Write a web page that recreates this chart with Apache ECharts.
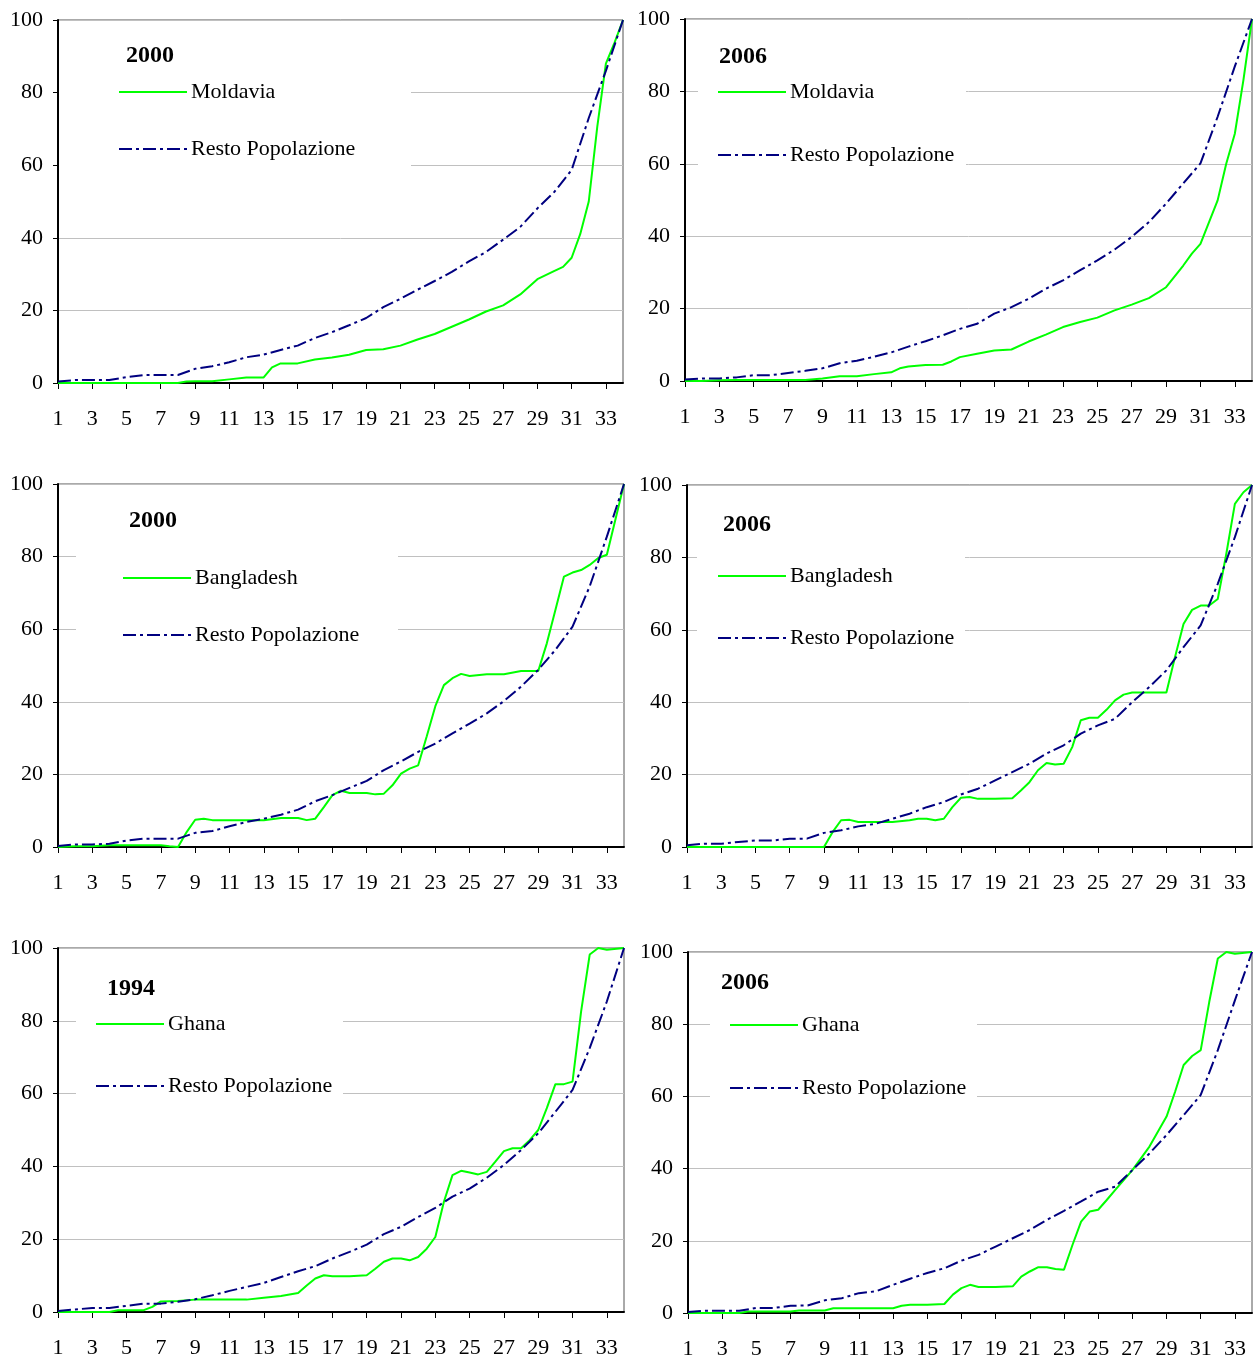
<!DOCTYPE html>
<html>
<head>
<meta charset="utf-8">
<script src="https://cdn.jsdelivr.net/npm/echarts@6/dist/echarts.min.js"></script>
<style>
html,body{margin:0;padding:0;background:#fff;}
#main{width:1253px;height:1361px;}
</style>
</head>
<body>
<div id="main"></div>
<script>
// x categories: 1 .. 34 in half steps; tick labels at 1,3,5,...,33
const xTickLabels = ['1','3','5','7','9','11','13','15','17','19','21','23','25','27','29','31','33'];
const yTicks = [0, 20, 40, 60, 80, 100];

// values at integer positions 1..34
const moldavia2000 = [0,0,0,0,0,0,0,0,0.5,0.5,1,1.5,1.5,5.4,5.4,6.5,7,7.8,9.1,9.3,10.3,12,13.5,15.5,17.5,19.7,21.4,24.4,28.6,30.9,34.5,50,88,100];
const moldavia2000Half = [[8.5,0.4],[13.5,4.3],[30.5,32],[31.5,41],[32.5,70.7],[33.5,93.7]];
const resto2000M = [0.4,0.8,0.8,0.8,1.6,2.2,2.2,2.2,3.9,4.6,5.7,7.1,7.8,9.1,10.3,12.4,14,15.9,17.9,20.9,23.2,25.7,28.1,30.6,33.5,36.1,39.5,43,48.1,52.7,58.7,73,86,100];

const moldavia2006 = [0,0,0.2,0.3,0.3,0.3,0.3,0.3,0.7,1.3,1.3,1.9,2.4,4,4.4,4.5,6.6,7.5,8.4,8.7,10.9,12.8,14.9,16.3,17.5,19.5,21.1,22.9,25.9,31.9,37.9,49.9,68.3,100];
const moldavia2006Half = [[13.5,3.5],[16.5,5.4],[30.5,35.2],[31.5,43.9],[32.5,60],[33.5,83.1]];
const resto2006M = [0.4,0.7,0.7,1,1.6,1.6,2.2,2.8,3.5,4.9,5.6,6.7,7.9,9.5,11,12.6,14.4,15.8,18.6,20.4,22.7,25.5,27.8,30.6,33.3,36.3,39.8,43.9,49,54.6,60.1,73,86.9,100];

const bangladesh2000 = [0,0.2,0.2,0.5,0.5,0.5,0.5,0,7.5,7.4,7.4,7.4,7.4,8,8,7.8,14.3,14.9,14.9,14.7,20.2,22.5,38.8,46.5,47.1,47.6,47.6,48.5,48.5,65.3,75.6,77.7,80.5,100];
const bangladesh2000Half = [[7.5,0.2],[8.5,4.1],[9.5,7.8],[15.5,7.4],[16.5,11],[17.5,15.5],[19.5,14.5],[20.5,17],[21.5,21.6],[22.5,30.5],[23.5,44.6],[24.5,47.7],[29.5,56.1],[30.5,74.5],[31.5,76.3],[32.5,79.6],[33.5,90.2]];
const resto2000B = [0.3,0.7,0.7,0.9,1.8,2.3,2.3,2.3,3.9,4.4,5.7,6.9,7.8,8.9,10.3,12.6,14.3,16.3,18.2,21.2,23.6,26.2,28.5,31.3,34,36.8,40.2,44.2,48.8,54.3,60.7,71.8,85.5,100];

const bangladesh2006 = [0,0,0,0,0,0,0,0,0,7.4,6.9,6.9,6.9,7.4,7.8,7.8,13.6,13.3,13.3,13.5,17.9,23.2,23,35,35.7,40.5,42.7,42.7,42.7,61.6,66.7,68.5,94.8,100];
const bangladesh2006Half = [[9.5,4.1],[10.5,7.5],[14.5,7.8],[15.5,7.4],[16.5,11],[17.5,13.8],[20.5,15.6],[21.5,21.2],[22.5,22.8],[23.5,27.6],[24.5,35.7],[25.5,37.9],[26.5,42.1],[29.5,52.4],[30.5,65.5],[31.5,66.7],[32.5,81],[33.5,98]];
const resto2006B = [0.5,0.9,0.9,1.4,1.8,1.8,2.3,2.3,3.9,4.6,5.7,6.4,7.8,9.2,11,12.4,14.5,16.1,18.4,20.7,23,25.8,28.1,31.3,33.6,35.4,40,44.2,48.8,55.2,61.2,72.7,85.6,100];

const ghana1994 = [0,0,0,0,0.5,0.5,2.9,3,3.4,3.4,3.4,3.4,3.9,4.4,5.2,9.2,9.8,9.8,10.1,13.8,14.7,15.1,20.6,37.6,38.3,38.5,44.2,45,50,62.6,63.3,98.2,99.5,100];
const ghana1994Half = [[4.5,0.5],[6.5,1.4],[15.5,7.3],[16.5,10.1],[19.5,11.9],[20.5,14.7],[21.5,14.2],[22.5,17.4],[23.5,30.3],[24.5,38.8],[25.5,37.8],[26.5,41.3],[27.5,45],[28.5,47.2],[29.5,56],[30.5,62.6],[31.5,82.6],[32.5,100]];
const resto1994G = [0.3,0.7,1.1,1.1,1.7,2.3,2.3,2.8,3.5,4.6,5.8,6.9,8,9.6,11.2,12.6,14.7,16.5,18.5,21.4,23.4,26.1,28.6,31.7,33.9,36.9,40.4,44.5,49.1,55,61,72.5,85.3,100];

const ghana2006 = [0,0,0,0,0.4,0.4,0.4,0.7,0.7,1.3,1.3,1.3,1.3,2.3,2.3,2.5,6.9,7.2,7.2,7.4,11.5,12.7,12,25.3,28.6,34.1,39.6,46.1,54.4,68.7,72.8,98.2,99.5,100];
const ghana2006Half = [[4.5,0.4],[7.5,0.7],[9.5,1.3],[13.5,2],[16.5,5.1],[17.5,7.8],[20.5,10.1],[21.5,12.7],[22.5,12.2],[23.5,18.9],[24.5,28.1],[25.5,31.3],[29.5,61.3],[30.5,71.2],[31.5,86.2],[32.5,100]];
const resto2006G = [0.3,0.6,0.6,0.6,1.4,1.4,2,2.1,3.5,4.1,5.5,6,7.8,9.5,11.1,12.4,14.5,16.1,18.4,20.7,23,25.8,28.3,30.9,33.6,35,39.6,44.2,49.3,54.8,60.4,72.8,86.6,100];

const years = ['2000','2006','2000','2006','1994','2006'];
const countries = ['Moldavia','Moldavia','Bangladesh','Bangladesh','Ghana','Ghana'];
const restName = 'Resto Popolazione';

// ---- build helpers ----
const cats = [];
for (let i = 0; i < 67; i++) cats.push(String(1 + i * 0.5));
function build(ints, halves) {
  const arr = new Array(67).fill(null);
  ints.forEach((v, i) => { arr[i * 2] = v; });
  (halves || []).forEach(([p, v]) => { arr[Math.round((p - 1) * 2)] = v; });
  return arr;
}
const countrySeries = [
  build(moldavia2000, moldavia2000Half), build(moldavia2006, moldavia2006Half),
  build(bangladesh2000, bangladesh2000Half), build(bangladesh2006, bangladesh2006Half),
  build(ghana1994, ghana1994Half), build(ghana2006, ghana2006Half)
];
const restSeries = [build(resto2000M), build(resto2006M), build(resto2000B), build(resto2006B), build(resto1994G), build(resto2006G)];

// ---- layout (styles / positions) ----
const FONT = '"Liberation Serif", "Times New Roman", serif';
const grids = [
  {left: 58, top: 20, width: 565, height: 363},
  {left: 685, top: 19, width: 567, height: 362},
  {left: 58, top: 484, width: 566, height: 363},
  {left: 687, top: 485, width: 565, height: 362},
  {left: 58, top: 948, width: 566, height: 364},
  {left: 688, top: 952, width: 564, height: 361}
];
const titlePos = [[126, 44], [719, 45], [129, 509], [723, 513], [107, 977], [721, 971]];
const legendPos = [[118, 92, 57], [717, 92, 63], [122, 578, 57], [717, 576, 62], [95, 1024, 62], [729, 1025, 63]];
const boxX = [[59, 411], [698, 966], [76, 398], [697, 965], [76, 343], [710, 977]];

const labelSet = new Set(xTickLabels);
const option = {
  animation: false,
  backgroundColor: '#fff',
  grid: grids.map(g => Object.assign({show: true, borderColor: '#555', borderWidth: 1, backgroundColor: 'transparent'}, g)),
  xAxis: grids.map((g, i) => ({
    type: 'category', gridIndex: i, data: cats, boundaryGap: false,
    axisLine: {show: true, lineStyle: {color: '#000', width: 2}},
    axisTick: {show: true, length: 6, lineStyle: {color: '#000', width: 1},
      interval: (idx, val) => labelSet.has(val)},
    axisLabel: {interval: (idx, val) => labelSet.has(val), margin: 25,
      fontFamily: FONT, fontSize: 22, color: '#000'},
    splitLine: {show: false}
  })),
  yAxis: grids.map((g, i) => ({
    type: 'value', gridIndex: i, min: yTicks[0], max: yTicks[yTicks.length - 1], interval: 20,
    axisLine: {show: true, lineStyle: {color: '#000', width: 2}},
    axisTick: {show: true, length: 5, lineStyle: {color: '#000'}},
    axisLabel: {margin: 15, fontFamily: FONT, fontSize: 22, color: '#000'},
    splitLine: {show: true, lineStyle: {color: '#c0c0c0', width: 1}}
  })),
  title: years.map((y, i) => ({
    text: y, left: titlePos[i][0], top: titlePos[i][1], padding: 0,
    textStyle: {fontFamily: FONT, fontSize: 24, fontWeight: 'bold', color: '#000'}
  })),
  legend: countries.map((c, i) => ({
    orient: 'vertical', left: legendPos[i][0], top: legendPos[i][1] - 11,
    itemWidth: 68, itemHeight: 14, itemGap: legendPos[i][2] - 22, padding: 0,
    selectedMode: false, data: [c, restName],
    itemStyle: {opacity: 0, borderWidth: 0},
    textStyle: {fontFamily: FONT, fontSize: 22, color: '#000', lineHeight: 22, padding: [0, 0, 0, -1]}
  })),
  graphic: boxX.map((b, i) => ({
    type: 'rect', z: 1,
    shape: {x: b[0], y: grids[i].top + 8, width: b[1] - b[0], height: grids[i].height * 0.5 - 8},
    style: {fill: '#fff'}
  })),
  series: []
};
countries.forEach((c, i) => {
  option.series.push({
    name: c, type: 'line', xAxisIndex: i, yAxisIndex: i, data: countrySeries[i],
    symbol: 'none', showSymbol: false, connectNulls: true, smooth: false,
    lineStyle: {color: '#00ff00', width: 2}, itemStyle: {color: '#00ff00'}, z: 3
  });
  option.series.push({
    name: restName, type: 'line', xAxisIndex: i, yAxisIndex: i, data: restSeries[i],
    symbol: 'none', showSymbol: false, connectNulls: true, smooth: false,
    lineStyle: {color: '#000080', width: 2, type: [13, 4, 3, 4]}, itemStyle: {color: '#000080'}, z: 4
  });
});
const chart = echarts.init(document.getElementById('main'), null, {renderer: 'canvas'});
chart.setOption(option);
</script>
</body>
</html>
